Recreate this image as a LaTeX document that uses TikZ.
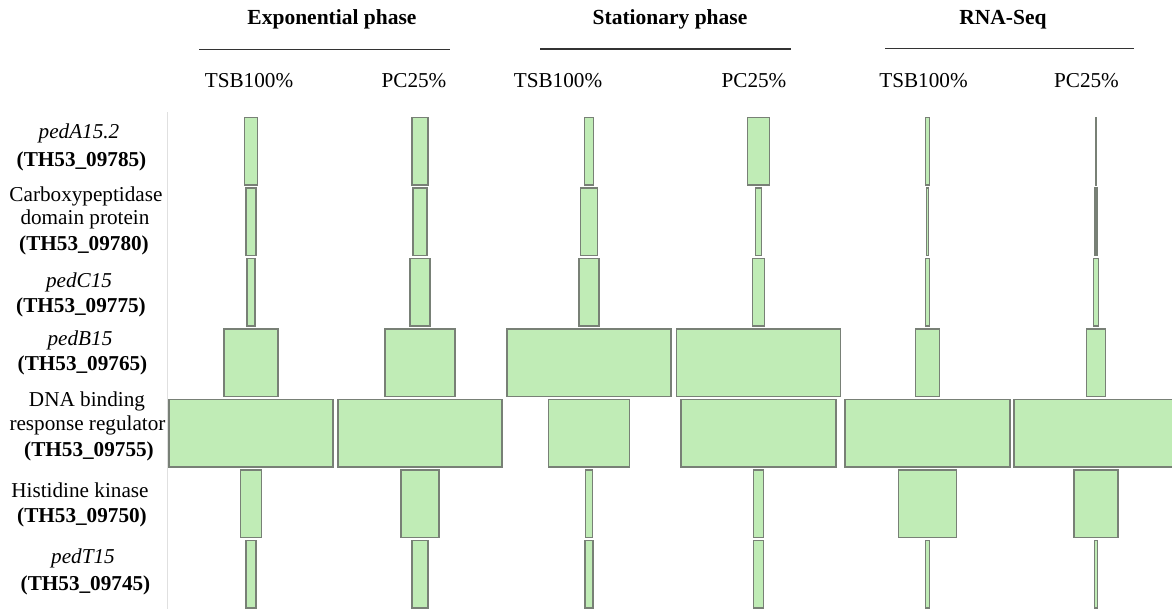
\documentclass[tikz,border=0pt]{standalone}
\usepackage{fontspec}
\setmainfont{Liberation Serif}
\definecolor{gfill}{RGB}{192,236,182}
\definecolor{gedge}{RGB}{120,128,118}
\newcommand\gb[4]{\node[gbox, minimum width=#4*0.5pt] (#1) at (#2,#3) {};}
\begin{document}
\begin{tikzpicture}[x=0.5pt,y=-0.5pt,
  gbox/.style={draw=gedge, fill=gfill, line width=0.6pt, inner sep=0pt, outer sep=0pt, minimum height=33.75pt},
  lbl/.style={anchor=base, inner sep=0pt, font=\fontsize{10.6}{12}\selectfont},
  hdr/.style={anchor=base, inner sep=0pt, font=\fontsize{10.75}{12}\selectfont\bfseries},
  hline/.style={draw=black!80, line width=0.85pt},
  vline/.style={draw=black!12, line width=0.5pt}]
\useasboundingbox (0,0) rectangle (1172,609);

% headers
\node[hdr] (h1) at (332,25) {Exponential phase};
\node[hdr] (h2) at (670,25) {Stationary phase};
\node[hdr] (h3) at (1003,25) {RNA-Seq};
\coordinate (e1) at (199,49.5); \coordinate (e2) at (450,49.5);
\coordinate (s1) at (540,49);   \coordinate (s2) at (791,49);
\coordinate (r1) at (885,48.5); \coordinate (r2) at (1134,48.5);
\draw[hline] (e1) -- (e2);
\draw[hline] (s1) -- (s2);
\draw[hline] (r1) -- (r2);
\node[lbl] (t1) at (249,88) {TSB100\%};
\node[lbl] (p1) at (414,88) {PC25\%};
\node[lbl] (t2) at (558,88) {TSB100\%};
\node[lbl] (p2) at (754,88) {PC25\%};
\node[lbl] (t3) at (923.5,88) {TSB100\%};
\node[lbl] (p3) at (1086.5,88) {PC25\%};

% faint cell border
\coordinate (v1) at (167.5,112); \coordinate (v2) at (167.5,609);
\draw[vline] (v1) -- (v2);

% row labels
\node[lbl] (l1a) at (79,139) {\itshape pedA15.2};
\node[lbl] (l1b) at (81.5,166.5) {\bfseries (TH53\_09785)};
\node[lbl] (l2a) at (86,201.5) {Carboxypeptidase};
\node[lbl] (l2b) at (85,224.5) {domain protein};
\node[lbl] (l2c) at (84,250) {\bfseries (TH53\_09780)};
\node[lbl] (l3a) at (79,287) {\itshape pedC15};
\node[lbl] (l3b) at (81,312) {\bfseries (TH53\_09775)};
\node[lbl] (l4a) at (80,345) {\itshape pedB15};
\node[lbl] (l4b) at (82.5,370) {\bfseries (TH53\_09765)};
\node[lbl] (l5a) at (87,406.5) {DNA binding};
\node[lbl] (l5b) at (87.5,430.5) {response regulator};
\node[lbl] (l5c) at (89,456) {\bfseries (TH53\_09755)};
\node[lbl] (l6a) at (80,497.5) {Histidine kinase};
\node[lbl] (l6b) at (82,522.5) {\bfseries (TH53\_09750)};
\node[lbl] (l7a) at (83,563) {\itshape pedT15};
\node[lbl] (l7b) at (85.5,590.5) {\bfseries (TH53\_09745)};

% bars: columns 251, 420, 589, 758.5, 927.5, 1096
% row 1 pedA
\gb{a1}{251}{151.25}{13}
\gb{a2}{420}{151.25}{16}
\gb{a3}{589}{151.25}{8.5}
\gb{a4}{758.5}{151.25}{22}
\gb{a5}{927.5}{151.25}{4}
\gb{a6}{1096}{151.25}{1.2}
% row 2 carboxypeptidase
\gb{b1}{251}{221.75}{10}
\gb{b2}{420}{221.75}{14}
\gb{b3}{589}{221.75}{17.5}
\gb{b4}{758.5}{221.75}{6.5}
\gb{b5}{927.5}{221.75}{2}
\gb{b6}{1096}{221.75}{2}
% row 3 pedC
\gb{c1}{251}{292.25}{8}
\gb{c2}{420}{292.25}{20}
\gb{c3}{589}{292.25}{20}
\gb{c4}{758.5}{292.25}{12}
\gb{c5}{927.5}{292.25}{4.5}
\gb{c6}{1096}{292.25}{4.5}
% row 4 pedB
\gb{d1}{251}{362.75}{54}
\gb{d2}{420}{362.75}{70}
\gb{d3}{589}{362.75}{164}
\gb{d4}{758.5}{362.75}{164}
\gb{d5}{927.5}{362.75}{24.5}
\gb{d6}{1096}{362.75}{19}
% row 5 DNA binding
\gb{e1b}{251}{433.25}{164}
\gb{e2b}{420}{433.25}{164}
\gb{e3b}{589}{433.25}{81}
\gb{e4b}{758.5}{433.25}{155}
\gb{e5b}{927.5}{433.25}{165}
\gb{e6b}{1096}{433.25}{164}
% row 6 histidine kinase
\gb{f1}{251}{503.75}{21}
\gb{f2}{420}{503.75}{38}
\gb{f3}{589}{503.75}{6.5}
\gb{f4}{758.5}{503.75}{10.5}
\gb{f5}{927.5}{503.75}{58}
\gb{f6}{1096}{503.75}{44}
% row 7 pedT
\gb{g1}{251}{574.25}{10}
\gb{g2}{420}{574.25}{16}
\gb{g3}{589}{574.25}{8}
\gb{g4}{758.5}{574.25}{10.5}
\gb{g5}{927.5}{574.25}{4.5}
\gb{g6}{1096}{574.25}{2.5}
\end{tikzpicture}
\end{document}
